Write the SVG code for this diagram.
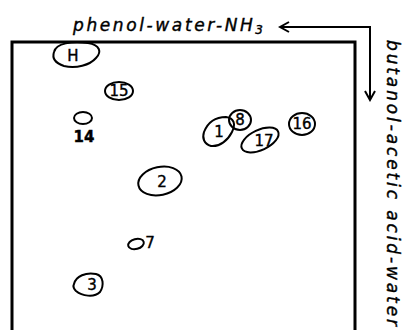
<svg xmlns="http://www.w3.org/2000/svg" width="406" height="330" viewBox="0 0 406 330">
<style>
.spot{fill:none;stroke:#000;stroke-width:2}
.lbl{font-family:"DejaVu Sans","Liberation Sans",sans-serif;font-size:15px;fill:#000;text-anchor:middle;stroke:#000;stroke-width:0.4}
.axis{font-family:"DejaVu Sans","Liberation Sans",sans-serif;font-style:italic;font-size:17px;fill:#000;stroke:#000;stroke-width:0.4}
.conn{fill:none;stroke:#000;stroke-width:2}
</style>
<defs>
<marker id="ah" markerWidth="12" markerHeight="12" refX="10" refY="6" orient="auto" markerUnits="userSpaceOnUse">
<path d="M1,1 L10,6 L1,11" fill="none" stroke="#000" stroke-width="2"/>
</marker>
</defs>
<rect x="0" y="0" width="406" height="330" fill="#fff"/>
<g id="plate">
<path d="M12,332 V42 H355 V332" fill="none" stroke="#000" stroke-width="3"/>
</g>
<g id="connectors">
<path class="conn" d="M370,100 V27 H280" marker-end="url(#ah)"/>
<path class="conn" d="M370,27 V100" marker-end="url(#ah)"/>
</g>
<g id="axis-labels">
<text class="axis" x="73" y="31" textLength="190" lengthAdjust="spacing">phenol-water-NH<tspan font-size="12" dy="3">3</tspan></text>
<text class="axis" transform="translate(387,40) rotate(90)" x="0" y="0" textLength="286" lengthAdjust="spacing">butanol-acetic  acid-water</text>
</g>
<g id="spot-H">
<path class="spot" stroke-width="3" d="M54,52 C56,43 72,41 88,43 C100,45 102,52 96,58 C90,65 76,69 64,66 C55,63 52,58 54,52 Z"/>
<text class="lbl" x="73" y="61">H</text>
</g>
<g id="spot-15">
<ellipse class="spot" cx="119" cy="91" rx="14" ry="9"/>
<text class="lbl" x="119" y="96">15</text>
</g>
<g id="spot-14">
<ellipse class="spot" cx="83" cy="118" rx="9" ry="6"/>
<text class="lbl" x="84" y="142" font-weight="bold">14</text>
</g>
<g id="spot-1">
<path class="spot" d="M204,132 C208,122 216,117 226,117 C234,118 236,124 232,132 C228,140 220,147 211,146 C204,144 202,138 204,132 Z"/>
<text class="lbl" x="219" y="137">1</text>
</g>
<g id="spot-8">
<ellipse class="spot" cx="240" cy="120" rx="11" ry="10"/>
<text class="lbl" x="240" y="125">8</text>
</g>
<g id="spot-17">
<ellipse class="spot" cx="260" cy="140" rx="20" ry="10" transform="rotate(-25 260 140)"/>
<text class="lbl" x="264" y="146">17</text>
</g>
<g id="spot-16">
<ellipse class="spot" cx="302" cy="124" rx="13" ry="11"/>
<text class="lbl" x="302" y="129">16</text>
</g>
<g id="spot-2">
<ellipse class="spot" cx="160" cy="181" rx="22" ry="14" transform="rotate(-12 160 181)"/>
<text class="lbl" x="162" y="187">2</text>
</g>
<g id="spot-7">
<ellipse class="spot" cx="136" cy="244" rx="8" ry="5" transform="rotate(-15 136 244)"/>
<text class="lbl" x="150" y="248">7</text>
</g>
<g id="spot-3">
<path class="spot" d="M74,284 C76,276 86,272 96,274 C104,276 104,286 100,292 C94,298 82,296 76,291 C73,288 73,286 74,284 Z"/>
<text class="lbl" x="92" y="290">3</text>
</g>
</svg>
